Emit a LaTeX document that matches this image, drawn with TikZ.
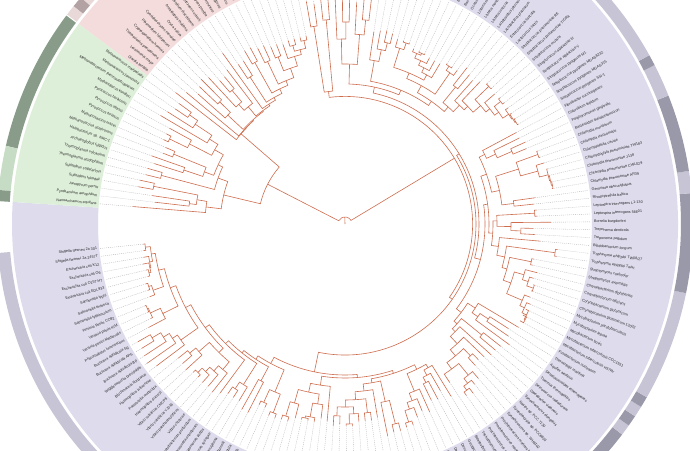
\documentclass[tikz,border=0pt]{standalone}
\usepackage{fontspec}
\setmainfont{Liberation Sans}
\definecolor{bgP}{HTML}{DDDBEC}
\definecolor{bgG}{HTML}{DDEFD9}
\definecolor{bgR}{HTML}{F4DCDC}
\definecolor{rgL}{HTML}{C6C4D5}
\definecolor{rgD}{HTML}{9A99AA}
\definecolor{rgGD}{HTML}{889C89}
\definecolor{rgGL}{HTML}{C7DCC4}
\definecolor{rgRL}{HTML}{E8D8D8}
\definecolor{rgRD}{HTML}{B3A2A4}
\definecolor{treec}{HTML}{CD6D4E}
\definecolor{dashc}{HTML}{B5B5B5}
\definecolor{labc}{HTML}{262626}
\newcounter{lfc}
\def\thz{185.7}
\def\spc{1.84}
\tikzset{
  br/.style={draw=treec, line width=0.6pt, line join=miter},
  dl/.style={draw=dashc, line width=0.35pt, dash pattern=on 1pt off 1pt},
  lab/.style={font=\fontsize{3.7}{4}\selectfont, text=labc, inner sep=0pt}
}
\newcommand\lf[2]{%
  \pgfmathsetmacro\lfA{\thz+\number\value{lfc}*\spc}%
  \edef\lid{L\number\value{lfc}}%
  \expandafter\xdef\csname A\lid\endcsname{\lfA}%
  \coordinate (\lid) at (\lfA:#1pt);
  \coordinate (\lid d) at (\lfA:246pt);
  \draw[dl] (\lid) -- (\lid d);
  \pgfmathtruncatemacro\lfS{and(\lfA>270,\lfA<450)}%
  \ifnum\lfS=1
    \node[lab, anchor=west, rotate=\lfA] (\lid t) at (\lfA:249pt) {#2};
  \else
    \pgfmathsetmacro\lfR{\lfA-180}%
    \node[lab, anchor=east, rotate=\lfR] (\lid t) at (\lfA:249pt) {#2};
  \fi
  \stepcounter{lfc}}
\newcommand\cl[4]{%
  \edef\cAa{\csname A#3\endcsname}\edef\cAb{\csname A#4\endcsname}%
  \pgfmathsetmacro\cAm{(\cAa+\cAb)/2}%
  \expandafter\xdef\csname A#1\endcsname{\cAm}%
  \coordinate (#1) at (\cAm:#2pt);
  \draw[br] (#3) -- (\cAa:#2pt) arc[start angle=\cAa, end angle=\cAb, radius=#2pt] -- (#4);}
\newcommand\annsec[5]{\fill[#1] (#2:#4pt) arc[start angle=#2, end angle=#3, radius=#4pt] -- (#3:#5pt) arc[start angle=#3, end angle=#2, radius=#5pt] -- cycle;}
\newcommand\ringseg[3]{%
  \pgfmathsetmacro\rsA{\thz+(#2-0.5)*\spc}\pgfmathsetmacro\rsB{\thz+(#3+0.5)*\spc}%
  \annsec{#1}{\rsA}{\rsB}{336}{348}}
\begin{document}
\begin{tikzpicture}[x=1pt,y=1pt]
\useasboundingbox (-345,-226) rectangle (345,224);
\clip (-345,-226) rectangle (345,224);
\fill[white] (-345,-226) rectangle (345,224);
% background sectors
\annsec{bgP}{176.2}{460.8}{247}{333}
\annsec{bgR}{460.8}{503.1}{247}{333}
\annsec{bgG}{503.1}{536.2}{247}{333}
% outer ring
\ringseg{rgL}{0}{71}\ringseg{rgD}{72}{74}\ringseg{rgL}{75}{75}\ringseg{rgD}{76}{76}
\ringseg{rgL}{77}{77}\ringseg{rgD}{78}{78}\ringseg{rgL}{79}{88}\ringseg{rgD}{89}{97}
\ringseg{rgL}{98}{99}\ringseg{rgD}{100}{106}\ringseg{rgL}{107}{109}\ringseg{rgD}{110}{110}
\ringseg{rgL}{111}{149}
\ringseg{rgRL}{150}{170}\ringseg{rgRD}{171}{171}\ringseg{rgRL}{172}{172}
\ringseg{rgGD}{173}{185}\ringseg{rgGL}{186}{189}\ringseg{rgGD}{190}{190}
\draw[white, line width=1pt] (460.8:334pt) -- (460.8:350pt) (503.1:334pt) -- (503.1:350pt);
% leaves
\lf{203}{Shigella flexneri 2a 301}
\lf{203}{Shigella flexneri 2a 2457T}
\lf{204}{Escherichia coli K12}
\lf{206}{Escherichia coli O6}
\lf{204}{Escherichia coli O157:H7}
\lf{204}{Escherichia coli EDL933}
\lf{208}{Salmonella typhi}
\lf{208}{Salmonella enterica}
\lf{208}{Salmonella typhimurium}
\lf{216}{Yersinia pestis CO92}
\lf{216}{Yersinia pestis KIM}
\lf{216}{Yersinia pestis Medievalis}
\lf{222}{Photorhabdus luminescens}
\lf{238}{Buchnera aphidicola Sg}
\lf{238}{Buchnera aphidicola APS}
\lf{240}{Buchnera aphidicola Bp}
\lf{242}{Wigglesworthia brevipalpis}
\lf{236}{Blochmannia floridanus}
\lf{214}{Haemophilus influenzae}
\lf{214}{Pasteurella multocida}
\lf{216}{Haemophilus ducreyi}
\lf{212}{Vibrio vulnificus CMCP6}
\lf{212}{Vibrio vulnificus YJ016}
\lf{213}{Vibrio parahaemolyticus}
\lf{212}{Vibrio cholerae}
\lf{214}{Photobacterium profundum}
\lf{210}{Shewanella oneidensis}
\lf{206}{Pseudomonas putida}
\lf{206}{Pseudomonas syringae}
\lf{206}{Pseudomonas aeruginosa}
\lf{212}{Coxiella burnetii}
\lf{212}{Legionella pneumophila}
\lf{200}{Xanthomonas axonopodis}
\lf{200}{Xanthomonas campestris}
\lf{206}{Xylella fastidiosa 700964}
\lf{206}{Xylella fastidiosa 9a5c}
\lf{205}{Neisseria meningitidis A}
\lf{205}{Neisseria meningitidis B}
\lf{200}{Chromobacterium violaceum}
\lf{200}{Bordetella pertussis}
\lf{200}{Bordetella parapertussis}
\lf{200}{Bordetella bronchiseptica}
\lf{196}{Ralstonia solanacearum}
\lf{198}{Nitrosomonas europaea}
\lf{202}{Agrobacterium tumefaciens}
\lf{200}{Sinorhizobium meliloti}
\lf{202}{Brucella melitensis}
\lf{202}{Brucella suis}
\lf{198}{Mesorhizobium loti}
\lf{198}{Bradyrhizobium japonicum}
\lf{198}{Rhodopseudomonas palustris}
\lf{196}{Caulobacter crescentus}
\lf{216}{Wolbachia sp. wMel}
\lf{214}{Rickettsia prowazekii}
\lf{214}{Rickettsia conorii}
\lf{212}{Helicobacter pylori 26695}
\lf{212}{Helicobacter pylori J99}
\lf{206}{Helicobacter hepaticus}
\lf{202}{Wolinella succinogenes}
\lf{206}{Campylobacter jejuni}
\lf{196}{Desulfovibrio vulgaris}
\lf{198}{Desulfotalea psychrophila}
\lf{192}{Geobacter sulfurreducens}
\lf{202}{Bdellovibrio bacteriovorus}
\lf{190}{Trichodesmium erythraeum}
\lf{210}{Prochlorococcus marinus SS120}
\lf{212}{Prochlorococcus marinus MED4}
\lf{206}{Prochlorococcus marinus MIT9313}
\lf{204}{Synechococcus sp. WH8102}
\lf{192}{Synechocystis sp. PCC6803}
\lf{190}{Nostoc sp. PCC 7120}
\lf{192}{Synechococcus elongatus}
\lf{196}{Gloeobacter violaceus}
\lf{196}{Deinococcus radiodurans}
\lf{198}{Thermus thermophilus}
\lf{204}{Dehalococcoides ethenogenes}
\lf{198}{Aquifex aeolicus}
\lf{194}{Thermotoga maritima}
\lf{202}{Fusobacterium nucleatum}
\lf{200}{Mycobacterium tuberculosis H37Rv}
\lf{200}{Mycobacterium tuberculosis CDC1551}
\lf{200}{Mycobacterium bovis}
\lf{202}{Mycobacterium leprae}
\lf{199}{Mycobacterium paratuberculosis}
\lf{198}{Corynebacterium glutamicum 13032}
\lf{198}{Corynebacterium glutamicum}
\lf{196}{Corynebacterium efficiens}
\lf{198}{Corynebacterium diphtheriae}
\lf{192}{Streptomyces avermitilis}
\lf{192}{Streptomyces coelicolor}
\lf{214}{Tropheryma whipplei Twist}
\lf{214}{Tropheryma whipplei TW08/27}
\lf{196}{Bifidobacterium longum}
\lf{190}{Treponema pallidum}
\lf{188}{Treponema denticola}
\lf{206}{Borrelia burgdorferi}
\lf{192}{Leptospira interrogans 56601}
\lf{192}{Leptospira interrogans L1-130}
\lf{190}{Rhodopirellula baltica}
\lf{192}{Gemmata obscuriglobus}
\lf{210}{Chlamydia pneumoniae AR39}
\lf{210}{Chlamydia pneumoniae CWL029}
\lf{210}{Chlamydia pneumoniae J138}
\lf{210}{Chlamydophila pneumoniae TW183}
\lf{208}{Chlamydophila caviae}
\lf{206}{Chlamydia trachomatis}
\lf{206}{Chlamydia muridarum}
\lf{196}{Bacteroides thetaiotaomicron}
\lf{198}{Porphyromonas gingivalis}
\lf{194}{Chlorobium tepidum}
\lf{194}{Fibrobacter succinogenes}
\lf{200}{Streptococcus pyogenes SSI-1}
\lf{200}{Streptococcus pyogenes MGAS315}
\lf{200}{Streptococcus pyogenes MGAS8232}
\lf{200}{Streptococcus pyogenes M1}
\lf{200}{Streptococcus agalactiae V}
\lf{200}{Streptococcus agalactiae III}
\lf{198}{Streptococcus mutans}
\lf{200}{Streptococcus pneumoniae TIGR4}
\lf{200}{Streptococcus pneumoniae R6}
\lf{196}{Lactococcus lactis}
\lf{192}{Enterococcus faecalis}
\lf{194}{Lactobacillus plantarum}
\lf{198}{Lactobacillus johnsonii}
\lf{190}{Listeria innocua}
\lf{190}{Listeria monocytogenes}
\lf{190}{Listeria monocytogenes F2365}
\lf{186}{Oceanobacillus iheyensis}
\lf{186}{Bacillus halodurans}
\lf{186}{Bacillus subtilis}
\lf{188}{Bacillus cereus ATCC 14579}
\lf{188}{Bacillus cereus ATCC 10987}
\lf{188}{Bacillus anthracis}
\lf{192}{Staphylococcus aureus MW2}
\lf{192}{Staphylococcus aureus N315}
\lf{192}{Staphylococcus epidermidis}
\lf{196}{Clostridium acetobutylicum}
\lf{198}{Clostridium perfringens}
\lf{196}{Clostridium tetani}
\lf{194}{Thermoanaerobacter tengcongensis}
\lf{232}{Mycoplasma mobile}
\lf{228}{Mycoplasma pulmonis}
\lf{222}{Mycoplasma mycoides}
\lf{226}{Mycoplasma penetrans}
\lf{226}{Ureaplasma parvum}
\lf{230}{Mycoplasma gallisepticum}
\lf{230}{Mycoplasma genitalium}
\lf{230}{Mycoplasma pneumoniae}
\lf{222}{Onion yellows phytoplasma}
\lf{226}{Mesoplasma florum}
% Eukaryota 150-172
\lf{192}{Pan troglodytes}
\lf{192}{Homo sapiens}
\lf{192}{Mus musculus}
\lf{192}{Rattus norvegicus}
\lf{190}{Gallus gallus}
\lf{192}{Danio rerio}
\lf{192}{Takifugu rubripes}
\lf{196}{Drosophila melanogaster}
\lf{196}{Anopheles gambiae}
\lf{200}{Caenorhabditis elegans}
\lf{200}{Caenorhabditis briggsae}
\lf{192}{Saccharomyces cerevisiae}
\lf{192}{Schizosaccharomyces pombe}
\lf{210}{Encephalitozoon cuniculi}
\lf{194}{Dictyostelium discoideum}
\lf{190}{Arabidopsis thaliana}
\lf{190}{Oryza sativa}
\lf{200}{Cyanidioschyzon merolae}
\lf{204}{Plasmodium falciparum}
\lf{200}{Cryptosporidium hominis}
\lf{196}{Thalassiosira pseudonana}
\lf{206}{Leishmania major}
\lf{214}{Giardia lamblia}
% Archaea 173-190
\lf{205}{Methanococcus maripaludis}
\lf{205}{Methanococcus jannaschii}
\lf{210}{Methanobacterium thermautotrophicum}
\lf{214}{Methanopyrus kandleri}
\lf{200}{Pyrococcus horikoshii}
\lf{200}{Pyrococcus abyssi}
\lf{200}{Pyrococcus furiosus}
\lf{195}{Methanosarcina mazei}
\lf{195}{Methanosarcina acetivorans}
\lf{205}{Halobacterium sp. NRC-1}
\lf{200}{Archaeoglobus fulgidus}
\lf{205}{Thermoplasma volcanium}
\lf{205}{Thermoplasma acidophilum}
\lf{210}{Sulfolobus solfataricus}
\lf{210}{Sulfolobus tokodaii}
\lf{195}{Aeropyrum pernix}
\lf{191}{Pyrobaculum aerophilum}
\lf{213}{Nanoarchaeum equitans}
% ---- tree: enterobacteria
\cl{sf}{201}{L0}{L1}
\cl{e45}{202}{L4}{L5}
\cl{e345}{200}{L3}{e45}
\cl{ec}{199}{L2}{e345}
\cl{esh}{196}{sf}{ec}
\cl{s67}{206}{L6}{L7}
\cl{sal}{203}{s67}{L8}
\cl{ess}{192}{esh}{sal}
\cl{y910}{215}{L9}{L10}
\cl{yer}{214}{y910}{L11}
\cl{yph}{203}{yer}{L12}
\cl{entA}{186}{ess}{yph}
\cl{b1314}{224}{L13}{L14}
\cl{buc}{214}{b1314}{L15}
\cl{bw}{207}{buc}{L16}
\cl{bwb}{201}{bw}{L17}
\cl{ent}{180}{entA}{bwb}
\cl{p1819}{202}{L18}{L19}
\cl{pas}{194}{p1819}{L20}
\cl{v2122}{209}{L21}{L22}
\cl{vthree}{203}{v2122}{L23}
\cl{vfour}{197}{vthree}{L24}
\cl{vib}{190}{vfour}{L25}
\cl{pv}{180}{pas}{vib}
\cl{epv}{174}{ent}{pv}
\cl{gA}{169}{epv}{L26}
\cl{ps2728}{198}{L27}{L28}
\cl{pse}{190}{ps2728}{L29}
\cl{gB}{165}{gA}{pse}
\cl{cxl}{178}{L30}{L31}
\cl{gC}{162}{gB}{cxl}
\cl{xa}{196}{L32}{L33}
\cl{xy}{202}{L34}{L35}
\cl{xx}{182}{xa}{xy}
\cl{gam}{158}{gC}{xx}
\cl{ne}{201}{L36}{L37}
\cl{nc}{186}{ne}{L38}
\cl{boA}{198}{L39}{L40}
\cl{bor}{196}{boA}{L41}
\cl{brl}{182}{bor}{L42}
\cl{bA}{172}{nc}{brl}
\cl{bet}{163}{bA}{L43}
\cl{as}{192}{L44}{L45}
\cl{bru}{200}{L46}{L47}
\cl{bm}{190}{bru}{L48}
\cl{rzA}{183}{as}{bm}
\cl{brr}{190}{L49}{L50}
\cl{rz}{176}{rzA}{brr}
\cl{rc}{168}{rz}{L51}
\cl{ri}{206}{L53}{L54}
\cl{wr}{182}{L52}{ri}
\cl{alp}{161}{rc}{wr}
\cl{hp}{208}{L55}{L56}
\cl{hh}{196}{hp}{L57}
\cl{hw}{189}{hh}{L58}
\cl{eps}{181}{hw}{L59}
\cl{dd}{178}{L60}{L61}
\cl{dg}{172}{dd}{L62}
\cl{del}{166}{dg}{L63}
\cl{de}{162}{eps}{del}
\cl{ad}{157}{alp}{de}
\cl{bda}{154}{bet}{ad}
\cl{pro}{151}{gam}{bda}
% cyanobacteria etc.
\cl{pcA}{206}{L65}{L66}
\cl{pcB}{201}{pcA}{L67}
\cl{pcC}{195}{pcB}{L68}
\cl{cyA}{180}{L64}{pcC}
\cl{sn}{182}{L69}{L70}
\cl{cyB}{172}{cyA}{sn}
\cl{cyC}{164}{cyB}{L71}
\cl{cya}{154}{cyC}{L72}
\cl{dt}{176}{L73}{L74}
\cl{at}{172}{L76}{L77}
\cl{dat}{162}{L75}{at}
\cl{daf}{155}{dat}{L78}
% actinobacteria
\cl{mt}{204}{L79}{L80}
\cl{mtB}{203}{mt}{L81}
\cl{mtC}{198}{mtB}{L82}
\cl{myc}{193}{mtC}{L83}
\cl{cg}{199}{L84}{L85}
\cl{cgB}{192}{cg}{L86}
\cl{cor}{186}{cgB}{L87}
\cl{mc}{176}{myc}{cor}
\cl{stm}{190}{L88}{L89}
\cl{mcs}{168}{mc}{stm}
\cl{tro}{212}{L90}{L91}
\cl{mcst}{163}{mcs}{tro}
\cl{act}{155}{mcst}{L92}
\cl{tp}{176}{L93}{L94}
\cl{tpb}{166}{tp}{L95}
\cl{lep}{190}{L96}{L97}
\cl{spi}{152}{tpb}{lep}
\cl{pla}{170}{L98}{L99}
\cl{cA}{211}{L100}{L101}
\cl{cB}{210}{cA}{L102}
\cl{cC}{209}{cB}{L103}
\cl{cD}{200}{cC}{L104}
\cl{cE}{205}{L105}{L106}
\cl{chl}{182}{cD}{cE}
\cl{pvc}{158}{pla}{chl}
\cl{bp}{182}{L107}{L108}
\cl{bpc}{166}{bp}{L109}
\cl{bcf}{156}{bpc}{L110}
% firmicutes
\cl{spA}{199}{L111}{L112}
\cl{spB}{198}{spA}{L113}
\cl{spC}{197}{spB}{L114}
\cl{sag}{198}{L115}{L116}
\cl{spa}{190}{spC}{sag}
\cl{spm}{185}{spa}{L117}
\cl{spn}{199}{L118}{L119}
\cl{str}{180}{spm}{spn}
\cl{stl}{170}{str}{L120}
\cl{ste}{165}{stl}{L121}
\cl{lb}{176}{L122}{L123}
\cl{lac}{156}{ste}{lb}
\cl{liA}{189}{L125}{L126}
\cl{lis}{184}{L124}{liA}
\cl{bc}{187}{L130}{L131}
\cl{bca}{185}{bc}{L132}
\cl{bs}{180}{L129}{bca}
\cl{bh}{175}{L128}{bs}
\cl{ob}{170}{L127}{bh}
\cl{sa}{191}{L133}{L134}
\cl{sae}{184}{sa}{L135}
\cl{obs}{164}{ob}{sae}
\cl{bac}{158}{lis}{obs}
\cl{bci}{150}{lac}{bac}
\cl{clA}{186}{L136}{L137}
\cl{clB}{178}{clA}{L138}
\cl{clo}{166}{clB}{L139}
\cl{fir}{145}{bci}{clo}
\cl{mA}{205}{L140}{L141}
\cl{mB}{190}{mA}{L142}
\cl{mC}{202}{L143}{L144}
\cl{mE}{185}{mC}{L145}
\cl{molB}{160}{mB}{mE}
\cl{tA}{205}{L146}{L147}
\cl{tB}{200}{L148}{L149}
\cl{TopB}{133.5}{tA}{tB}
% bacterial backbone
\cl{cd}{150}{cya}{dt}
\cl{cdd}{146}{cd}{daf}
\cl{asB}{148}{act}{spi}
\cl{pbB}{150}{pvc}{bcf}
\cl{asp}{144}{asB}{pbB}
\cl{Yone}{140}{cdd}{asp}
\cl{Ytwo}{140}{fir}{molB}
\cl{Yb}{134}{Yone}{Ytwo}
\cl{RB}{131}{pro}{Yb}
\cl{BAC}{127.6}{RB}{TopB}
% eukaryota
\cl{eA}{188}{L150}{L151}
\cl{eB}{186}{L152}{L153}
\cl{mam}{180}{eA}{eB}
\cl{amn}{175}{mam}{L154}
\cl{fish}{180}{L155}{L156}
\cl{vert}{165}{amn}{fish}
\cl{ins}{180}{L157}{L158}
\cl{vi}{155}{vert}{ins}
\cl{nem}{185}{L159}{L160}
\cl{ani}{150}{vi}{nem}
\cl{fun}{175}{L161}{L162}
\cl{af}{145}{ani}{fun}
\cl{op}{142}{af}{L163}
\cl{plt}{175}{L165}{L166}
\cl{plc}{160}{plt}{L167}
\cl{dp}{152}{L164}{plc}
\cl{od}{140}{op}{dp}
\cl{api}{175}{L168}{L169}
\cl{chr}{160}{api}{L170}
\cl{odc}{139}{od}{chr}
\cl{odl}{138}{odc}{L171}
\cl{EUK}{137.6}{odl}{L172}
% archaea
\cl{mjA}{190}{L173}{L174}
\cl{mjB}{180}{mjA}{L175}
\cl{meth}{160}{mjB}{L176}
\cl{pyA}{195}{L178}{L179}
\cl{pyr}{175}{L177}{pyA}
\cl{Ya}{150}{meth}{pyr}
\cl{msa}{185}{L180}{L181}
\cl{hal}{170}{L182}{L183}
\cl{Za}{150}{msa}{hal}
\cl{Xa}{140}{Ya}{Za}
\cl{thp}{190}{L184}{L185}
\cl{eury}{135}{Xa}{thp}
\cl{sul}{195}{L186}{L187}
\cl{apy}{157}{L188}{L189}
\cl{cren}{150}{sul}{apy}
\cl{crn}{140}{cren}{L190}
\cl{ARC}{124.7}{eury}{crn}
\cl{AE}{87}{EUK}{ARC}
\cl{ROOT}{7}{BAC}{AE}
\coordinate (ctr) at (0,0);
\draw[br] (ctr) -- (ROOT);
\end{tikzpicture}
\end{document}
